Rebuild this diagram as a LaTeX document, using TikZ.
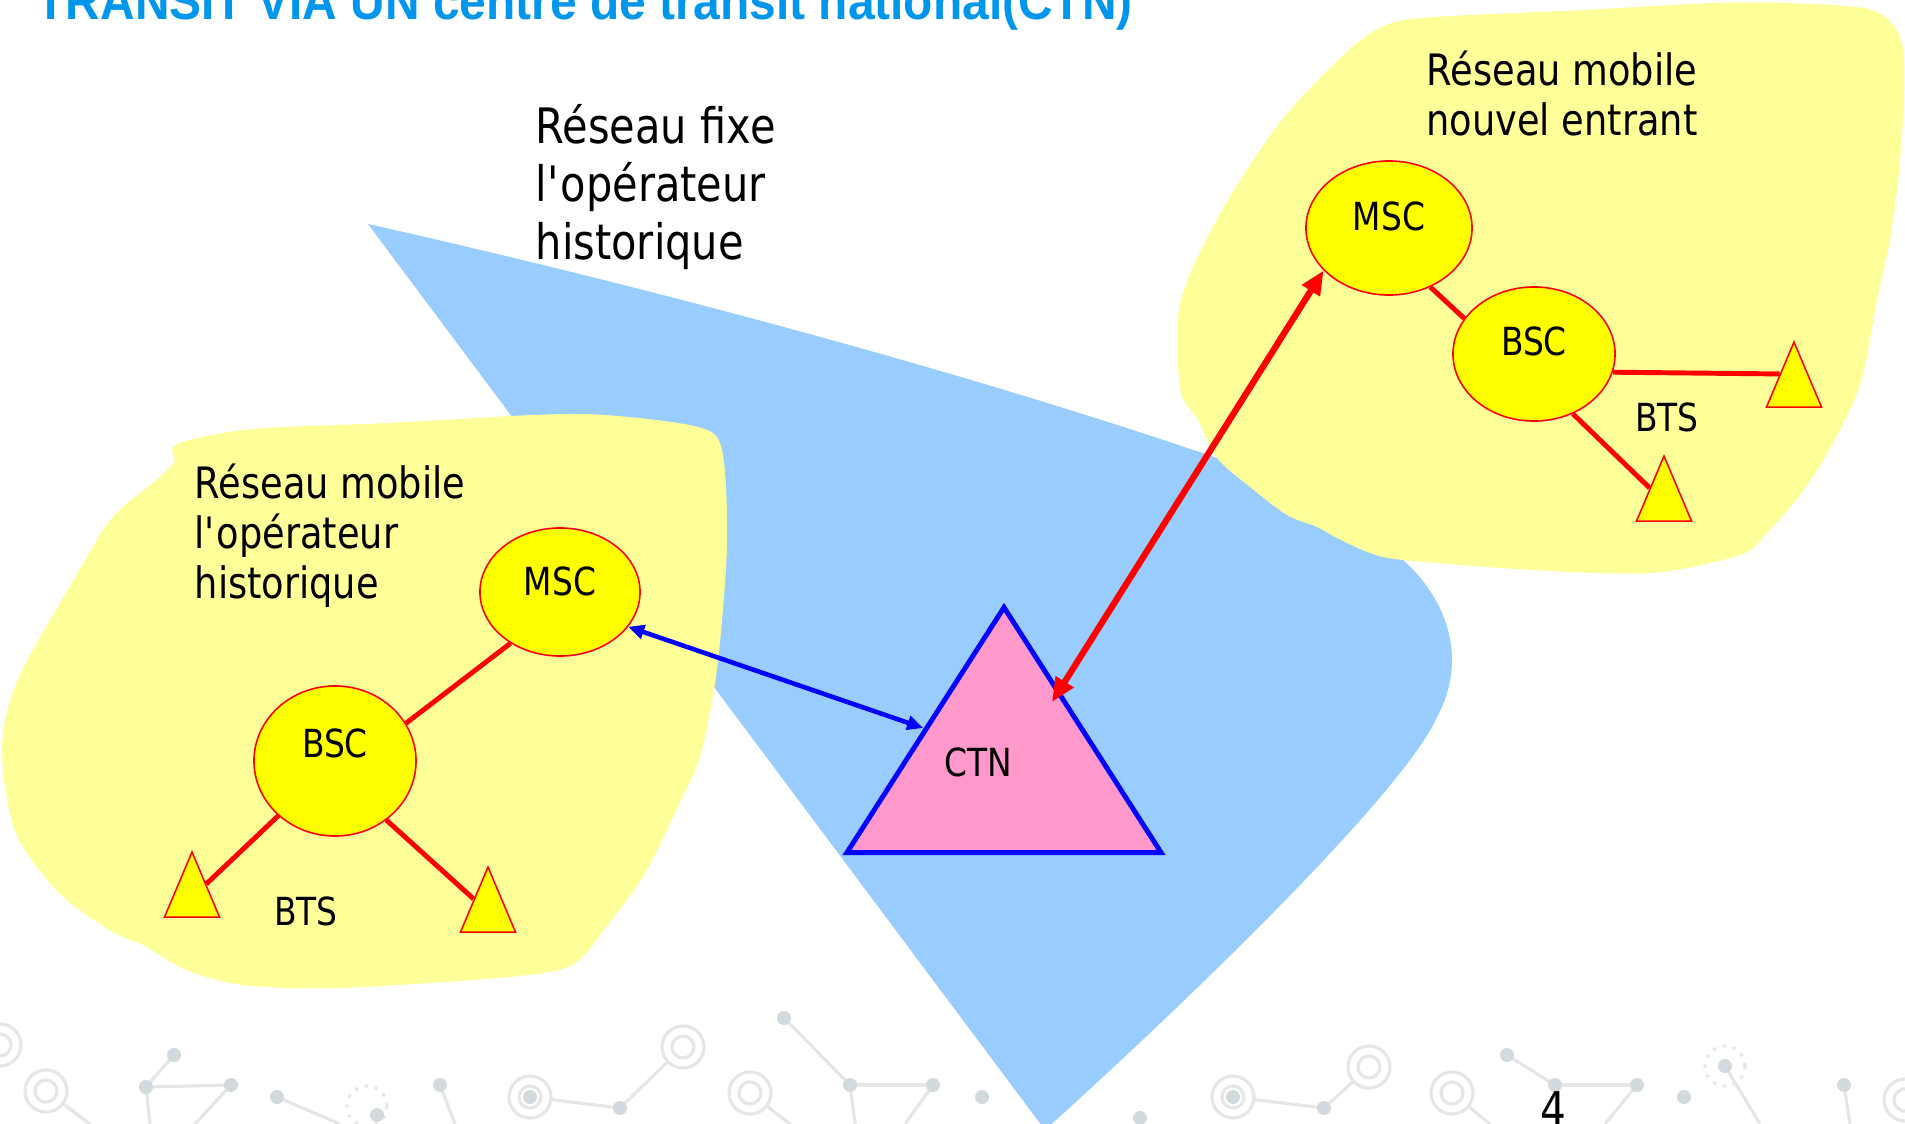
\documentclass[tikz,border=0pt]{standalone}
\usepackage{fontspec}
\setmainfont{DejaVu Sans}[FakeStretch=0.85]
\newfontfamily\titlefont{Liberation Sans}[FakeStretch=0.92]
\usepackage{tikz}
\usetikzlibrary{shapes}
\usetikzlibrary{calc}
\usetikzlibrary{positioning, arrows.meta}

\definecolor{fixblue}{RGB}{153,204,255}
\definecolor{mobyellow}{RGB}{255,255,153}
\definecolor{cellyellow}{RGB}{255,255,0}
\definecolor{ctnpink}{RGB}{255,153,204}
\definecolor{titleblue}{RGB}{0,150,235}
\definecolor{decoline}{RGB}{230,230,230}
\definecolor{decodot}{RGB}{210,218,222}

\begin{document}
\begin{tikzpicture}[x=0.01cm, y=-0.01cm,
    cell/.style={ellipse, draw=red, fill=cellyellow, line width=0.45pt, inner sep=0pt},
    bts/.style={isosceles triangle, isosceles triangle stretches, shape border rotate=90,
                draw=red, fill=cellyellow, line width=0.45pt, inner sep=0pt,
                minimum width=0.55cm, minimum height=0.65cm, anchor=apex},
    ctnbox/.style={isosceles triangle, isosceles triangle stretches, shape border rotate=90,
                draw=blue, fill=ctnpink, line width=1.4pt, inner sep=0pt,
                minimum width=3.14cm, minimum height=2.45cm, anchor=apex},
    lbl/.style={font=\fontsize{11}{13}\selectfont, inner sep=0pt},
    txt/.style={align=left, inner sep=0pt, anchor=north west},
    link/.style={draw=red, line width=1.4pt},
    bluearrow/.style={draw=blue, line width=1.3pt, {Triangle[length=0.16cm, width=0.14cm]}-{Triangle[length=0.16cm, width=0.14cm]}},
    redarrow/.style={draw=red, line width=1.8pt, {Triangle[length=0.24cm, width=0.2cm]}-{Triangle[length=0.24cm, width=0.2cm]}}]

                  \useasboundingbox (0,0) rectangle (1905,1124);
                  \clip (0,0) rectangle (1905,1124);
                  \fill[white] (0,0) rectangle (1905,1124);

                  % background pattern
                  \foreach \xa/\ya/\xb/\yb in {46/1091/90/1124, 146/1087/174/1055, 146/1087/231/1085, 146/1087/150/1124,
                      231/1085/195/1124, 277/1097/340/1124, 440/1085/455/1124, 530/1097/620/1108, 620/1108/683/1047,
                      750/1093/790/1124, 784/1018/850/1085, 850/1085/933/1085, 933/1085/905/1124, 850/1085/855/1124,
                      1233/1097/1324/1108, 1324/1108/1369/1067, 1452/1093/1490/1124, 1507/1055/1555/1085,
                      1555/1085/1637/1085, 1637/1085/1605/1124, 1555/1085/1558/1124, 1725/1066/1760/1124, 1844/1085/1850/1124}
                      \draw[decoline, line width=0.9pt] (\xa,\ya) -- (\xb,\yb);
                  \foreach \x/\y in {0/1045, 46/1091, 530/1097, 683/1047, 750/1093, 1233/1097, 1369/1067, 1452/1093, 1905/1100}
                      \draw[decoline, line width=0.9pt, fill=white] (\x,\y) circle (0.21cm) circle (0.11cm);
                  \foreach \x/\y in {367/1106, 1725/1066}
                      \draw[decoline, line width=0.9pt, dotted] (\x,\y) circle (0.2cm);
                  \foreach \x/\y in {146/1087, 174/1055, 231/1085, 277/1097, 377/1115, 440/1085, 530/1097, 620/1108,
                      784/1018, 850/1085, 933/1085, 982/1097, 1140/1118, 1233/1097, 1324/1108, 1507/1055, 1555/1085,
                      1637/1085, 1684/1097, 1725/1066, 1844/1085}
                      \fill[decodot] (\x,\y) circle (0.07cm);

                  % reseau fixe
                  \fill[fixblue] (368,224) .. controls (640,285) and (960,370) .. (1217,458)
                      -- (1300,490) -- (1403,560)
                      .. controls (1448,600) and (1468,660) .. (1437,717)
                      .. controls (1405,790) and (1200,990) .. (1045,1130) -- cycle;

                  % reseaux mobiles
                  \fill[mobyellow] plot[smooth cycle, tension=0.5] coordinates {(177,444) (252,429) (388,423) (533,415)
                      (606,415) (698,427) (722,450) (727,546) (717,669) (701,753) (680,802) (644,875) (606,927) (572,965)
                      (509,977) (339,988) (242,985) (184,969) (145,946) (111,931) (58,892) (15,831) (2,746) (19,677)
                      (73,581) (111,519) (155,481) (174,462)};
                  \fill[mobyellow] plot[smooth cycle, tension=0.5] coordinates {(1376,30) (1420,18) (1583,10) (1713,3)
                      (1786,3) (1872,10) (1901,40) (1904,100) (1898,180) (1890,240) (1877,300) (1860,385) (1829,450)
                      (1800,495) (1765,535) (1740,555) (1652,573) (1533,570) (1403,560) (1370,553) (1337,538) (1317,527)
                      (1287,515) (1250,487) (1217,458) (1198,420) (1181,393) (1177,333) (1181,300) (1193,267) (1222,210)
                      (1260,150) (1290,110) (1338,60)};

                  \node[anchor=base west, inner sep=0pt, text=titleblue, font=\titlefont\bfseries\fontsize{14.8}{17}\selectfont] (titre) at (36,20)
                      {TRANSIT VIA UN centre de transit national(CTN)};
                  \node[txt, font=\fontsize{13.9}{16.5}\selectfont] (fixe) at (535,104) {Réseau fixe\\l\textquotesingle opérateur\\historique};
                  \node[txt, font=\fontsize{12.3}{14.2}\selectfont] (histo) at (194,463) {Réseau mobile\\l\textquotesingle opérateur\\historique};
                  \node[txt, align=center, anchor=north, font=\fontsize{12.3}{14.2}\selectfont] (entrant) at (1562,50) {Réseau mobile\\nouvel entrant};

                  \node[cell, minimum width=1.6cm, minimum height=1.28cm, label={[lbl, yshift=0.11cm]center:MSC}] (lmsc) at (560,592) {};
                  \node[cell, minimum width=1.62cm, minimum height=1.5cm, label={[lbl, yshift=0.18cm]center:BSC}] (lbsc) at (335,761) {};
                  \node[bts] (lbts1) at (192,850) {};
                  \node[bts] (lbts2) at (488,865) {};
                  \node[lbl] (lbtslbl) at (306,911) {BTS};

                  \node[cell, minimum width=1.66cm, minimum height=1.34cm, label={[lbl, yshift=0.12cm]center:MSC}] (rmsc) at (1389,228) {};
                  \node[cell, minimum width=1.62cm, minimum height=1.34cm, label={[lbl, yshift=0.13cm]center:BSC}] (rbsc) at (1534,354) {};
                  \node[bts] (rbts1) at (1794,340) {};
                  \node[bts] (rbts2) at (1664,454) {};
                  \node[lbl] (rbtslbl) at (1667,417) {BTS};

                  \node[ctnbox] (ctn) at (1004,601) {};
                  \node[lbl] (ctnlbl) at (978,762) {CTN};
                  \coordinate (ctnin) at (1052,702);

                  \draw[link] (lmsc.226) -- (lbsc.28);
                  \draw[link] (lbsc.224) -- (lbts1.right side);
                  \draw[link] (lbsc.-49) -- (lbts2.left side);
                  \draw[link] (rmsc.-55) -- (rbsc.153);
                  \draw[link] (rbsc.-13) -- (rbts1.left side);
                  \draw[link] (rbsc.-57) -- (rbts2.left side);

                  \draw[bluearrow] (lmsc.-27) -- (ctn.left side);
                  \draw[redarrow] (ctnin) -- (rmsc.213);

                  \node[anchor=base, inner sep=0pt, font=\fontsize{13.6}{16}\selectfont] (pagenum) at (1553,1126) {4};
              \end{tikzpicture}
\end{document}
